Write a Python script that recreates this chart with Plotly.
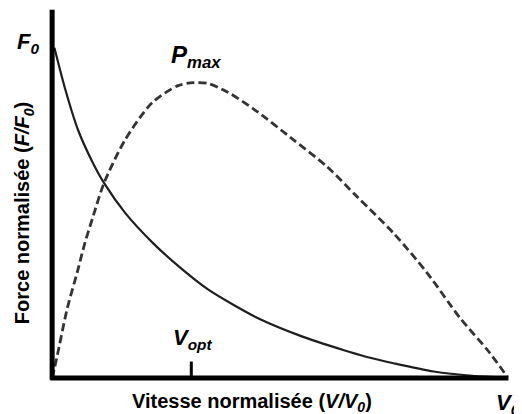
import plotly.graph_objects as go

# Force-velocity relation (normalised F/F0 vs V/V0)
v_force = [0.005, 0.03, 0.057, 0.088, 0.114, 0.16, 0.22, 0.28, 0.34, 0.397, 0.456, 0.54, 0.638, 0.69, 0.748, 0.836, 0.92, 0.998]
force = [1.0, 0.868, 0.75, 0.655, 0.59, 0.5, 0.41, 0.335, 0.27, 0.222, 0.178, 0.13, 0.085, 0.064, 0.045, 0.02, 0.007, 0.002]

# Power-velocity relation (dashed), same vertical scale
v_power = [0.0, 0.01, 0.033, 0.055, 0.072, 0.09, 0.114, 0.16, 0.219, 0.276, 0.31, 0.34, 0.384, 0.441,
           0.529, 0.603, 0.669, 0.748, 0.822, 0.895, 0.954, 0.998]
power = [0.0, 0.06, 0.21, 0.32, 0.41, 0.49, 0.591, 0.721, 0.833, 0.885, 0.894, 0.892, 0.866, 0.815,
         0.721, 0.639, 0.548, 0.439, 0.318, 0.18, 0.085, 0.003]

v_opt = 0.305

X_RANGE = [-0.02, 1.01]
Y_RANGE = [-0.03, 1.12]
FONT = "Liberation Sans, Arial, sans-serif"


def px(v):
    return (v - X_RANGE[0]) / (X_RANGE[1] - X_RANGE[0])


def py(f):
    return (f - Y_RANGE[0]) / (Y_RANGE[1] - Y_RANGE[0])


fig = go.Figure()
fig.add_trace(go.Scatter(x=v_force, y=force, mode="lines",
                         line=dict(color="#1e1e1e", width=2.2, shape="spline", smoothing=0.8),
                         showlegend=False, hoverinfo="skip"))
fig.add_trace(go.Scatter(x=v_power, y=power, mode="lines",
                         line=dict(color="#333333", width=2.8, dash="8px,4px", shape="spline", smoothing=0.8),
                         showlegend=False, hoverinfo="skip"))

# axis lines and Vopt tick
fig.add_shape(type="line", x0=-0.004, x1=1.0, y0=0, y1=0, xref="x", yref="y", line=dict(color="black", width=5))
fig.add_shape(type="line", x0=0, x1=0, y0=-0.005, y1=1.115, xref="x", yref="y", line=dict(color="black", width=5))
fig.add_shape(type="line", x0=v_opt, x1=v_opt, y0=0, y1=0.05, xref="x", yref="y", line=dict(color="black", width=3))

ann = [
    dict(x=px(0.439), y=py(-0.073), text="<b>Vitesse normalisée (<i>V/V<sub>0</sub></i>)</b>", font=dict(size=20)),
    dict(x=px(-0.061), y=py(0.5), text="<b>Force normalisée (<i>F/F<sub>0</sub></i>)</b>", font=dict(size=20), textangle=-90),
    dict(x=px(-0.052), y=py(1.015), text="<b><i>F<sub>0</sub></i></b>", font=dict(size=22)),
    dict(x=px(0.315), y=py(0.972), text="<b><i>P<sub>max</sub></i></b>", font=dict(size=24)),
    dict(x=px(0.307), y=py(0.118), text="<b><i>V<sub>opt</sub></i></b>", font=dict(size=22)),
    dict(x=px(0.998), y=py(-0.079), text="<b><i>V<sub>0</sub></i></b>", font=dict(size=22)),
]
for a in ann:
    a.update(xref="paper", yref="paper", showarrow=False, xanchor="center", yanchor="middle")
    a["font"].update(family=FONT, color="black")
    fig.add_annotation(**a)

fig.update_layout(
    width=514, height=406,
    margin=dict(l=35, r=9, t=0, b=26),
    paper_bgcolor="white", plot_bgcolor="white",
    xaxis=dict(range=X_RANGE, showgrid=False, zeroline=False, showticklabels=False, ticks="", showline=False),
    yaxis=dict(range=Y_RANGE, showgrid=False, zeroline=False, showticklabels=False, ticks="", showline=False),
    font=dict(family=FONT),
)
fig.write_html("out.html")
